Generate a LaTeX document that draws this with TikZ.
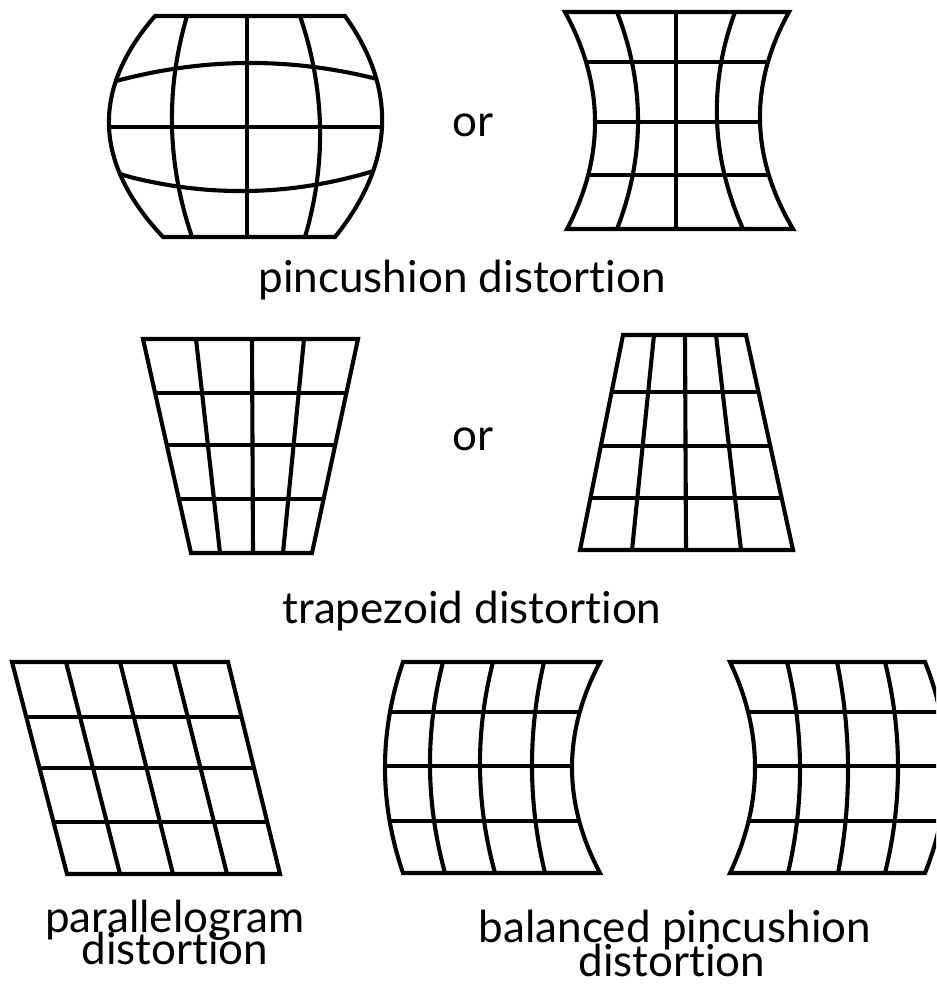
\documentclass[tikz,border=0pt]{standalone}
\usepackage{fontspec}
\setmainfont{Lato}[Ligatures={NoCommon}]
% vertical parabola-like curve: name, y-top, y-bottom, x-top, x-middle, x-bottom
\newcommand\vcurve[6]{%
  \coordinate (#1a) at (#4,#2);
  \coordinate (#1c) at ({#4+2/3*(2*#5-(#4+#6)/2-#4)},{#2+(#3-#2)/3});
  \coordinate (#1d) at ({#6+2/3*(2*#5-(#4+#6)/2-#6)},{#2+2*(#3-#2)/3});
  \coordinate (#1b) at (#6,#3);}
\begin{document}
\begin{tikzpicture}[x=1pt,y=-1pt,
  grid/.style={line width=4.1pt,line join=miter},
  lbl/.style={font=\fontsize{44}{44}\selectfont,anchor=base,inner sep=0pt}]
\useasboundingbox (0,0) rectangle (936,984);
\clip (0,0) rectangle (936,984);

% ---------- figure A: barrel-like ----------
\vcurve{AL}{16}{237}{155}{109}{163}
\vcurve{AR}{16}{237}{345}{382}{335}
\vcurve{A2}{16}{237}{187}{172}{192}
\vcurve{A4}{16}{237}{300}{320}{305}
\coordinate (A3a) at (247,16); \coordinate (A3b) at (247,237);
\begin{scope}
  \clip (ALa) -- (ARa) .. controls (ARc) and (ARd) .. (ARb) -- (ALb) .. controls (ALd) and (ALc) .. cycle;
  \draw[grid] (A2a) .. controls (A2c) and (A2d) .. (A2b);
  \draw[grid] (A4a) .. controls (A4c) and (A4d) .. (A4b);
  \draw[grid] (A3a) -- (A3b);
  \draw[grid] plot[domain=-0.12:1.12,samples=40,variable=\t] ({120+\t*253},{(1-\t)^2*80+2*\t*(1-\t)*47+\t^2*78});
  \draw[grid] (90,127) -- (400,127);
  \draw[grid] plot[domain=-0.12:1.12,samples=40,variable=\t] ({130+\t*237},{(1-\t)^2*177+2*\t*(1-\t)*207+\t^2*173});
\end{scope}
\draw[grid] (ALa) -- (ARa) .. controls (ARc) and (ARd) .. (ARb) -- (ALb) .. controls (ALd) and (ALc) .. cycle;

% ---------- figure B: pincushion ----------
\vcurve{BL}{12}{229}{565}{595}{567}
\vcurve{BR}{12}{229}{789}{760}{793}
\vcurve{B2}{12}{229}{617}{638}{617}
\vcurve{B4}{12}{229}{735}{717}{743}
\coordinate (B3a) at (676,12); \coordinate (B3b) at (676,229);
\begin{scope}
  \clip (BLa) -- (BRa) .. controls (BRc) and (BRd) .. (BRb) -- (BLb) .. controls (BLd) and (BLc) .. cycle;
  \draw[grid] (B2a) .. controls (B2c) and (B2d) .. (B2b);
  \draw[grid] (B4a) .. controls (B4c) and (B4d) .. (B4b);
  \draw[grid] (B3a) -- (B3b);
  \foreach \y in {62,122,175} \draw[grid] (540,\y) -- (820,\y);
\end{scope}
\draw[grid] (BLa) -- (BRa) .. controls (BRc) and (BRd) .. (BRb) -- (BLb) .. controls (BLd) and (BLc) .. cycle;

\node[lbl] (or1) at (473,137) {or};
\node[lbl] (lab1) at (462,292) {pincushion distortion};

% ---------- figure C: trapezoid, wide top ----------
\coordinate (C1) at (143,339); \coordinate (C2) at (358,339);
\coordinate (C3) at (312,553); \coordinate (C4) at (191,553);
\begin{scope}
  \clip (C1) -- (C2) -- (C3) -- (C4) -- cycle;
  \draw[grid] (196,339) -- (220,553);
  \draw[grid] (252,339) -- (253,553);
  \draw[grid] (304,339) -- (283,553);
  \foreach \y in {393,445,499} \draw[grid] (120,\y) -- (380,\y);
\end{scope}
\draw[grid] (C1) -- (C2) -- (C3) -- (C4) -- cycle;

% ---------- figure D: trapezoid, narrow top ----------
\coordinate (D1) at (623,335); \coordinate (D2) at (746,335);
\coordinate (D3) at (793,550); \coordinate (D4) at (580,550);
\begin{scope}
  \clip (D1) -- (D2) -- (D3) -- (D4) -- cycle;
  \draw[grid] (654,335) -- (632,550);
  \draw[grid] (685,335) -- (686,550);
  \draw[grid] (716,335) -- (741,550);
  \foreach \y in {392,446,498} \draw[grid] (560,\y) -- (810,\y);
\end{scope}
\draw[grid] (D1) -- (D2) -- (D3) -- (D4) -- cycle;

\node[lbl] (or2) at (473,450) {or};
\node[lbl] (lab2) at (472,623) {trapezoid distortion};

% ---------- figure E: parallelogram ----------
\coordinate (E1) at (12,662); \coordinate (E2) at (228,662);
\coordinate (E3) at (280,874); \coordinate (E4) at (67,874);
\begin{scope}
  \clip (E1) -- (E2) -- (E3) -- (E4) -- cycle;
  \draw[grid] (66,662) -- (120,874);
  \draw[grid] (120,662) -- (173,874);
  \draw[grid] (174,662) -- (227,874);
  \foreach \y in {717,768,822} \draw[grid] (0,\y) -- (300,\y);
\end{scope}
\draw[grid] (E1) -- (E2) -- (E3) -- (E4) -- cycle;

\node[lbl] (lab3a) at (175,932) {parallelogram};
\node[lbl] (lab3b) at (175,964) {distortion};

% ---------- figure F: balanced pincushion (left) ----------
\vcurve{FL}{662}{873}{403}{385}{403}
\vcurve{FR}{662}{873}{600}{572}{600}
\vcurve{F2}{662}{873}{443}{430}{445}
\vcurve{F3}{662}{873}{493}{480}{495}
\vcurve{F4}{662}{873}{544}{532}{545}
\begin{scope}
  \clip (FLa) -- (FRa) .. controls (FRc) and (FRd) .. (FRb) -- (FLb) .. controls (FLd) and (FLc) .. cycle;
  \draw[grid] (F2a) .. controls (F2c) and (F2d) .. (F2b);
  \draw[grid] (F3a) .. controls (F3c) and (F3d) .. (F3b);
  \draw[grid] (F4a) .. controls (F4c) and (F4d) .. (F4b);
  \foreach \y in {712,766,821} \draw[grid] (370,\y) -- (620,\y);
\end{scope}
\draw[grid] (FLa) -- (FRa) .. controls (FRc) and (FRd) .. (FRb) -- (FLb) .. controls (FLd) and (FLc) .. cycle;

% ---------- figure G: balanced pincushion (right, cut off) ----------
\vcurve{GL}{662}{873}{730}{755}{730}
\vcurve{GR}{662}{873}{925}{946}{925}
\vcurve{G2}{662}{873}{787}{800}{788}
\vcurve{G3}{662}{873}{837}{848}{838}
\vcurve{G4}{662}{873}{885}{898}{885}
\begin{scope}
  \clip (GLa) -- (GRa) .. controls (GRc) and (GRd) .. (GRb) -- (GLb) .. controls (GLd) and (GLc) .. cycle;
  \draw[grid] (G2a) .. controls (G2c) and (G2d) .. (G2b);
  \draw[grid] (G3a) .. controls (G3c) and (G3d) .. (G3b);
  \draw[grid] (G4a) .. controls (G4c) and (G4d) .. (G4b);
  \foreach \y in {712,766,821} \draw[grid] (720,\y) -- (970,\y);
\end{scope}
\draw[grid] (GLa) -- (GRa) .. controls (GRc) and (GRd) .. (GRb) -- (GLb) .. controls (GLd) and (GLc) .. cycle;

\node[lbl] (lab4a) at (675,942) {balanced pincushion};
\node[lbl] (lab4b) at (672,976) {distortion};
\end{tikzpicture}
\end{document}
